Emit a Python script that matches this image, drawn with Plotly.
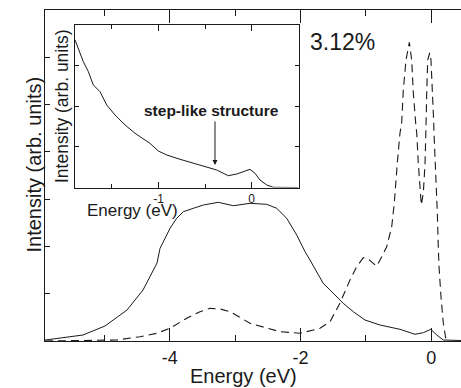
import plotly.graph_objects as go

# ---------------- data ----------------
main_solid_E = [-5.907, -5.326, -4.990, -4.653, -4.408, -4.194, -4.148, -3.995, -3.893, -3.792,
                -3.639, -3.486, -3.257, -3.028, -2.772, -2.517, -2.364, -2.211, -2.058, -1.931,
                -1.855, -1.656, -1.549, -1.346, -1.193, -1.014, -0.784, -0.479, -0.249, -0.122,
                -0.009, 0.083, 0.183, 0.454]
main_solid_I = [0.02, 0.127, 0.317, 0.655, 1.078, 1.649, 1.96, 2.383, 2.595, 2.734,
                2.806, 2.876, 2.933, 2.861, 2.912, 2.891, 2.806, 2.595, 2.241, 1.888,
                1.713, 1.226, 1.078, 0.797, 0.620, 0.444, 0.338, 0.247, 0.142, 0.176,
                0.247, 0.127, 0.021, 0.01]

main_dash_E = [-5.907, -4.810, -4.454, -4.199, -3.995, -3.740, -3.537, -3.384, -3.231, -3.078,
               -2.772, -2.314, -2.008, -1.702, -1.549, -1.396, -1.243, -1.141, -1.040, -0.963,
               -0.887, -0.835, -0.758, -0.682, -0.606, -0.566, -0.520, -0.479, -0.453, -0.428,
               -0.387, -0.336, -0.300, -0.275, -0.239, -0.223, -0.199, -0.173, -0.153, -0.122,
               -0.096, -0.084, -0.078, -0.070, -0.055, -0.024, -0.005, 0.021, 0.037, 0.041,
               0.067, 0.092, 0.107, 0.118, 0.148, 0.183, 0.225]
main_dash_I = [0.0, 0.021, 0.091, 0.163, 0.269, 0.480, 0.620, 0.691, 0.677, 0.620,
               0.374, 0.197, 0.163, 0.269, 0.408, 0.804, 1.290, 1.571, 1.761, 1.734,
               1.643, 1.586, 1.783, 1.994, 2.411, 2.918, 3.764, 4.398, 4.610, 5.308,
               5.942, 6.316, 5.942, 5.244, 4.610, 4.398, 3.764, 3.130, 2.876, 3.130,
               3.764, 4.398, 4.610, 5.244, 5.942, 6.096, 5.942, 5.244, 4.610, 4.398,
               3.616, 2.707, 1.967, 1.571, 0.937, 0.381, 0.021]

inset_E = [-1.896, -1.861, -1.807, -1.753, -1.700, -1.628, -1.556, -1.467, -1.359, -1.252,
           -1.199, -1.092, -1.002, -0.912, -0.769, -0.627, -0.483, -0.376, -0.251, -0.161,
           -0.018, 0.035, 0.089, 0.161, 0.232, 0.5]
inset_I = [3.642, 3.437, 3.106, 2.859, 2.531, 2.365, 2.037, 1.790, 1.543, 1.338,
           1.254, 1.091, 0.901, 0.802, 0.696, 0.598, 0.514, 0.432, 0.291, 0.333,
           0.449, 0.351, 0.185, 0.062, 0.005, 0.0]

main_xticks = [-4, -2, 0]
main_xticklabels = ["-4", "-2", "0"]
main_xminor = [-5, -3, -1]
inset_xticks = [-1, 0]
inset_xticklabels = ["-1", "0"]
inset_xminor = [-1.5, -0.5]

MAIN_XRANGE = [-5.907, 0.454]
INSET_XRANGE = [-1.896, 0.502]

# ---------------- layout helpers ----------------
W, H = 461, 388
L, R, T, B = 45, 461, 10, 341
FONT = "Liberation Sans, Arial, Helvetica, sans-serif"
INK = "#1a1a1a"


def px(x):
    return (x - L) / (R - L)


def py(y):
    return (B - y) / (B - T)


fig = go.Figure()
fig.add_trace(go.Scatter(x=main_solid_E, y=main_solid_I, mode="lines",
                         line=dict(color=INK, width=1), xaxis="x", yaxis="y",
                         showlegend=False, hoverinfo="skip"))
fig.add_trace(go.Scatter(x=main_dash_E, y=main_dash_I, mode="lines",
                         line=dict(color=INK, width=1.1, dash="8px,5px"), xaxis="x", yaxis="y",
                         showlegend=False, hoverinfo="skip"))
fig.add_trace(go.Scatter(x=inset_E, y=inset_I, mode="lines",
                         line=dict(color=INK, width=1), xaxis="x2", yaxis="y2",
                         showlegend=False, hoverinfo="skip"))
# helper (non-drawing) traces so the minor-tick overlay axes get rendered
fig.add_trace(go.Scatter(x=main_xminor, y=[0] * len(main_xminor), mode="none",
                         xaxis="x3", yaxis="y", showlegend=False, hoverinfo="skip"))
fig.add_trace(go.Scatter(x=inset_xminor, y=[0] * len(inset_xminor), mode="none",
                         xaxis="x4", yaxis="y2", showlegend=False, hoverinfo="skip"))

axis_common = dict(showgrid=False, zeroline=False, linecolor=INK, linewidth=1,
                   tickcolor=INK, tickwidth=1, ticks="inside")

fig.update_layout(
    width=W, height=H,
    margin=dict(l=L, r=W - R, t=T, b=H - B, pad=0),
    paper_bgcolor="white", plot_bgcolor="white",
    font=dict(family=FONT, color=INK),
    xaxis=dict(**axis_common, domain=[0, 1], range=MAIN_XRANGE,
               tickmode="array", tickvals=main_xticks, ticktext=main_xticklabels, ticklen=13,
               tickfont=dict(size=18, color=INK), mirror="ticks", showline=True),
    xaxis3=dict(**axis_common, overlaying="x", anchor="y", side="bottom", range=MAIN_XRANGE,
                tickmode="array", tickvals=main_xminor, ticklen=6, showticklabels=False,
                showline=False, mirror="ticks"),
    yaxis=dict(**axis_common, domain=[0, 1], range=[0, 7], dtick=1, tick0=0,
               ticklen=5, showticklabels=False, showline=True, mirror=False),
    xaxis2=dict(**axis_common, domain=[px(75), px(298.5)], range=INSET_XRANGE,
                anchor="y2", tickmode="array", tickvals=inset_xticks, ticktext=inset_xticklabels,
                ticklen=6, tickfont=dict(size=12, color=INK), mirror="ticks", showline=True),
    xaxis4=dict(**axis_common, overlaying="x2", anchor="y2", side="bottom", range=INSET_XRANGE,
                tickmode="array", tickvals=inset_xminor, ticklen=3.5, showticklabels=False,
                showline=False, mirror="ticks"),
    yaxis2=dict(**axis_common, domain=[py(187.5), py(25)], range=[0, 4.01], dtick=1, tick0=0,
                anchor="x2", ticklen=4, showticklabels=False, showline=True, mirror="ticks"),
)

ann = [
    dict(text="3.12%", x=px(342.5), y=py(42), font=dict(size=23)),
    dict(text="Energy (eV)", x=px(243), y=py(376), font=dict(size=20)),
    dict(text="Intensity (arb. units)", x=px(33), y=py(164.5), font=dict(size=20), textangle=-90),
    dict(text="Energy (eV)", x=px(132.5), y=py(210), font=dict(size=17)),
    dict(text="Intensity (arb. units)", x=px(62.5), y=py(106.5), font=dict(size=17.5), textangle=-90),
    dict(text="<b>step-like structure</b>", x=px(211), y=py(110), font=dict(size=15.5)),
]
for a in ann:
    fig.add_annotation(xref="paper", yref="paper", showarrow=False,
                       xanchor="center", yanchor="middle", **a)

fig.add_annotation(xref="x2", yref="y2", axref="x2", ayref="y2",
                   x=-0.394, y=0.556, ax=-0.394, ay=1.667, text="",
                   showarrow=True, arrowhead=2, arrowsize=1, arrowwidth=1, arrowcolor=INK)

fig.write_html("out.html", config={"displayModeBar": False},
               post_script="document.body.style.margin='0';document.body.style.overflow='hidden';")
